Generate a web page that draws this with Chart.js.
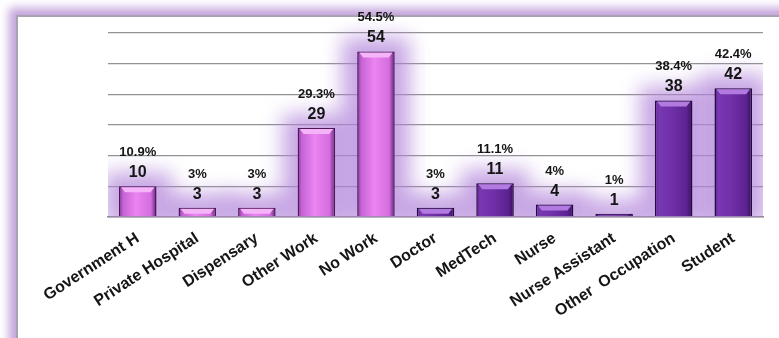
<!DOCTYPE html>
<html>
<head>
<meta charset="utf-8">
<script src="https://cdn.jsdelivr.net/npm/chart.js@4"></script>
<style>
html, body { margin: 0; padding: 0; background: #fff; overflow: hidden; }
#marco { position: absolute; left: 16px; top: 15px; width: 820px; height: 400px; border: 2px solid #aaa2b2; box-shadow: 0 0 9px 7px rgba(180, 140, 210, 0.8); }
#myChart { position: absolute; left: 0; top: 0; }
</style>
</head>
<body>
<div id="marco"></div>
<canvas id="myChart" width="779" height="338"></canvas>
<script>
const categorias = ['Government H', 'Private Hospital', 'Dispensary', 'Other Work', 'No Work', 'Doctor', 'MedTech', 'Nurse', 'Nurse Assistant', 'Other  Occupation', 'Student'];
const valores = [10, 3, 3, 29, 54, 3, 11, 4, 1, 38, 42];
const porcentajes = ['10.9%', '3%', '3%', '29.3%', '54.5%', '3%', '11.1%', '4%', '1%', '38.4%', '42.4%'];
const ejeY = { min: 0, max: 60, paso: 10 };

// colores: las primeras cinco barras en rosa, el resto en morado
const rosa = ['#7a2a8c', '#c462d4', '#ec84f2', '#d46ede', '#62207a'];
const morado = ['#5a2090', '#7838b2', '#7030a8', '#5c2290', '#34105a'];
const tapa = { rosa: '#f6b4f8', morado: '#b27ae0' };

function colorBarra(context) {
    const chart = context.chart;
    const x = chart.scales.x;
    const tonos = context.dataIndex < 5 ? rosa : morado;
    if (!x || !chart.chartArea) return tonos[2];
    const centro = x.getPixelForValue(context.dataIndex);
    const ancho = x.width / categorias.length * 0.63;
    const g = chart.ctx.createLinearGradient(centro - ancho / 2, 0, centro + ancho / 2, 0);
    g.addColorStop(0, tonos[0]);
    g.addColorStop(0.1, tonos[1]);
    g.addColorStop(0.45, tonos[2]);
    g.addColorStop(0.85, tonos[3]);
    g.addColorStop(1, tonos[4]);
    return g;
}

// halo morado detras de las barras
const brillo = {
    id: 'brillo',
    beforeDatasetsDraw(chart) {
        const c = chart.ctx;
        const area = chart.chartArea;
        const meta = chart.getDatasetMeta(0);
        c.save();
        c.beginPath();
        c.rect(area.left, 0, area.right - area.left, area.bottom);
        c.clip();
        c.filter = 'blur(10px)';
        c.fillStyle = 'rgba(178, 132, 218, 0.72)';
        meta.data.forEach(function (barra) {
            const w = barra.width + 30;
            c.fillRect(barra.x - w / 2, barra.y - 14, w, barra.base - barra.y + 24);
        });
        c.restore();
    }
};

const etiquetas = {
    id: 'etiquetas',
    afterDatasetsDraw(chart) {
        const ctx = chart.ctx;
        const meta = chart.getDatasetMeta(0);
        ctx.save();
        // brillo de la cara superior de cada barra
        meta.data.forEach(function (barra, i) {
            const m = barra.width / 2;
            const alto = Math.min(5, barra.base - barra.y - 2);
            ctx.fillStyle = i < 5 ? tapa.rosa : tapa.morado;
            ctx.beginPath();
            ctx.moveTo(barra.x - m + 2, barra.y + 1);
            ctx.lineTo(barra.x + m - 2, barra.y + 1);
            ctx.lineTo(barra.x + m - 6, barra.y + 1 + alto);
            ctx.lineTo(barra.x - m + 6, barra.y + 1 + alto);
            ctx.closePath();
            ctx.fill();
        });
        ctx.textAlign = 'center';
        ctx.fillStyle = '#151515';
        meta.data.forEach(function (barra, i) {
            ctx.font = 'bold 16px "Liberation Sans", Arial, sans-serif';
            ctx.fillText(valores[i], barra.x, barra.y - 9);
            ctx.font = 'bold 13px "Liberation Sans", Arial, sans-serif';
            ctx.fillText(porcentajes[i], barra.x, barra.y - 30);
        });
        ctx.restore();
    }
};

const ctx = document.getElementById('myChart').getContext('2d');
const chart = new Chart(ctx, {
    type: 'bar',
    data: {
        labels: categorias,
        datasets: [{
            data: valores,
            backgroundColor: colorBarra,
            borderColor: function (c) { return c.dataIndex < 5 ? '#4a1858' : '#220a3a'; },
            borderWidth: 1.5,
            barPercentage: 0.63,
            categoryPercentage: 1
        }]
    },
    options: {
        responsive: false,
        animation: false,
        layout: { padding: { left: 108, right: 16, top: 33, bottom: 13 } },
        plugins: { legend: { display: false }, tooltip: { enabled: false } },
        scales: {
            x: {
                grid: { display: false },
                border: { color: '#8a8a8a', width: 1.5 },
                ticks: {
                    color: '#151515',
                    font: { family: '"Liberation Sans", Arial, sans-serif', size: 16, weight: 'bold' },
                    minRotation: 33,
                    maxRotation: 33,
                    autoSkip: false,
                    padding: 4
                }
            },
            y: {
                min: ejeY.min,
                max: ejeY.max,
                ticks: { stepSize: ejeY.paso, display: false },
                grid: { color: '#929292', lineWidth: 1.3, drawTicks: false },
                border: { display: false }
            }
        }
    },
    plugins: [brillo, etiquetas]
});
</script>
</body>
</html>
